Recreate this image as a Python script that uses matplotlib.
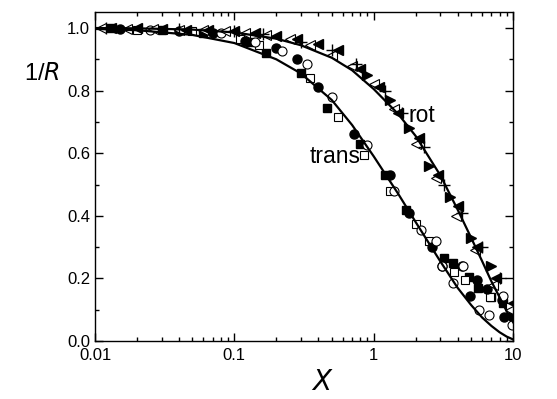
import numpy as np
import matplotlib.pyplot as plt
from matplotlib.ticker import MultipleLocator, LogLocator, NullFormatter, FixedLocator, FixedFormatter

plt.rcParams['font.family'] = ['Liberation Sans', 'DejaVu Sans']

# --- model curves ---
curve_x = [0.01, 0.02, 0.05, 0.1, 0.2, 0.3, 0.5, 0.7, 1.0, 1.5, 2.0, 3.0, 4.0, 5.0, 6.0, 7.0, 8.0, 9.0, 10.0]
trans_curve = [0.997, 0.993, 0.978, 0.952, 0.9, 0.855, 0.77, 0.69, 0.59, 0.47, 0.38, 0.255, 0.17, 0.115, 0.075, 0.048, 0.028, 0.014, 0.005]
rot_curve = [1.0, 0.999, 0.995, 0.986, 0.966, 0.945, 0.905, 0.865, 0.805, 0.725, 0.655, 0.53, 0.42, 0.33, 0.255, 0.19, 0.14, 0.095, 0.06]

# --- trans data ---
tr_fsq_x = [0.013, 0.03, 0.06, 0.13, 0.17, 0.3, 0.46, 0.8, 1.2, 1.7, 3.2, 3.7, 4.8, 5.6, 7.0, 8.5, 10.0]
tr_fsq_y = [1.0, 0.995, 0.985, 0.955, 0.92, 0.855, 0.745, 0.63, 0.53, 0.42, 0.265, 0.25, 0.205, 0.17, 0.14, 0.12, 0.08]
tr_osq_x = [0.02, 0.05, 0.11, 0.15, 0.35, 0.55, 0.85, 1.3, 2.0, 2.5, 3.8, 4.5, 6.8, 9.5]
tr_osq_y = [0.995, 0.99, 0.965, 0.945, 0.84, 0.715, 0.595, 0.48, 0.375, 0.32, 0.22, 0.195, 0.14, 0.11]
tr_fci_x = [0.015, 0.04, 0.07, 0.12, 0.2, 0.28, 0.4, 0.72, 1.3, 1.8, 2.6, 3.1, 4.3, 4.9, 5.5, 6.5, 8.3, 8.6]
tr_fci_y = [0.998, 0.99, 0.985, 0.96, 0.935, 0.9, 0.81, 0.66, 0.53, 0.41, 0.30, 0.24, 0.24, 0.145, 0.195, 0.165, 0.13, 0.077]
tr_oci_x = [0.025, 0.08, 0.14, 0.22, 0.33, 0.5, 0.9, 1.4, 2.2, 2.8, 3.1, 3.7, 4.4, 5.7, 6.7, 8.5, 9.8]
tr_oci_y = [0.995, 0.985, 0.955, 0.925, 0.885, 0.78, 0.625, 0.48, 0.355, 0.32, 0.24, 0.185, 0.24, 0.10, 0.083, 0.145, 0.05]

# --- rot data ---
ro_ftri_x = [0.013, 0.02, 0.03, 0.045, 0.065, 0.1, 0.14, 0.2, 0.28, 0.4, 0.55, 0.8, 1.1, 1.5, 2.1, 2.9, 4.0, 5.5, 7.5, 10.0]
ro_ftri_y = [1.0, 1.0, 0.998, 0.995, 0.993, 0.99, 0.985, 0.975, 0.965, 0.95, 0.93, 0.87, 0.81, 0.73, 0.65, 0.53, 0.43, 0.30, 0.2, 0.12]
ro_otri_x = [0.011, 0.017, 0.026, 0.04, 0.06, 0.085, 0.12, 0.17, 0.25, 0.35, 0.5, 0.7, 1.0, 1.4, 2.0, 2.8, 3.9, 5.3, 7.2, 9.5]
ro_otri_y = [1.0, 0.998, 0.997, 0.995, 0.993, 0.99, 0.985, 0.978, 0.965, 0.945, 0.915, 0.88, 0.82, 0.74, 0.63, 0.52, 0.40, 0.29, 0.18, 0.10]
ro_plus_x = [0.012, 0.04, 0.1, 0.16, 0.3, 0.5, 0.75, 1.2, 1.6, 2.3, 3.2, 4.3, 6.0, 8.0]
ro_plus_y = [1.0, 0.998, 0.99, 0.982, 0.955, 0.93, 0.885, 0.8, 0.73, 0.62, 0.5, 0.41, 0.3, 0.2]
ro_rtri_x = [0.9, 1.3, 1.8, 2.5, 3.5, 5.0, 7.0]
ro_rtri_y = [0.85, 0.77, 0.68, 0.56, 0.46, 0.33, 0.24]

fig = plt.figure(figsize=(5.57, 3.99), dpi=100)
ax = fig.add_axes([0.1706, 0.1454, 0.7505, 0.8236])

ms = 6
ax.plot(tr_fsq_x, tr_fsq_y, 's', color='black', ms=ms)
ax.plot(tr_osq_x, tr_osq_y, 's', mfc='white', mec='black', mew=0.8, ms=ms)
ax.plot(tr_fci_x, tr_fci_y, 'o', color='black', ms=ms + 0.5)
ax.plot(tr_oci_x, tr_oci_y, 'o', mfc='white', mec='black', mew=0.8, ms=ms + 0.5)

ax.plot(ro_otri_x, ro_otri_y, '<', mfc='white', mec='black', mew=0.8, ms=ms + 1)
ax.plot(ro_ftri_x, ro_ftri_y, '<', color='black', ms=ms + 1)
ax.plot(ro_rtri_x, ro_rtri_y, '>', color='black', ms=ms + 1)
ax.plot(ro_plus_x, ro_plus_y, '+', color='black', mew=1.0, ms=ms + 2)

ax.plot(curve_x, trans_curve, '-', color='black', lw=1.6)
ax.plot(curve_x, rot_curve, '-', color='black', lw=1.6)

ax.set_xscale('log')
ax.set_xlim(0.01, 10)
ax.set_ylim(0, 1.05)

ax.xaxis.set_major_locator(FixedLocator([0.01, 0.1, 1, 10]))
ax.xaxis.set_major_formatter(FixedFormatter(['0.01', '0.1', '1', '10']))
ax.xaxis.set_minor_locator(LogLocator(base=10, subs=np.arange(2, 10)))
ax.xaxis.set_minor_formatter(NullFormatter())
ax.yaxis.set_major_locator(MultipleLocator(0.2))
ax.yaxis.set_minor_locator(MultipleLocator(0.1))
ax.yaxis.set_major_formatter(plt.FuncFormatter(lambda v, p: f'{v:.1f}'))

ax.tick_params(which='both', direction='in', top=True, right=True, width=1.0)
ax.tick_params(which='major', length=6, labelsize=12)
ax.tick_params(which='minor', length=3)
ax.tick_params(axis='x', pad=5)
for s in ax.spines.values():
    s.set_linewidth(1.0)

fig.text(0.578, 0.04, '$X$', fontsize=20, ha='center', va='center')
fig.text(0.075, 0.815, '1/$R$', fontsize=17, ha='center', va='center')

ax.text(1.77, 0.72, 'rot', fontsize=16.5, ha='left', va='center')
ax.text(0.8, 0.59, 'trans', fontsize=16.5, ha='right', va='center')

fig.savefig('out.png', dpi=100)
